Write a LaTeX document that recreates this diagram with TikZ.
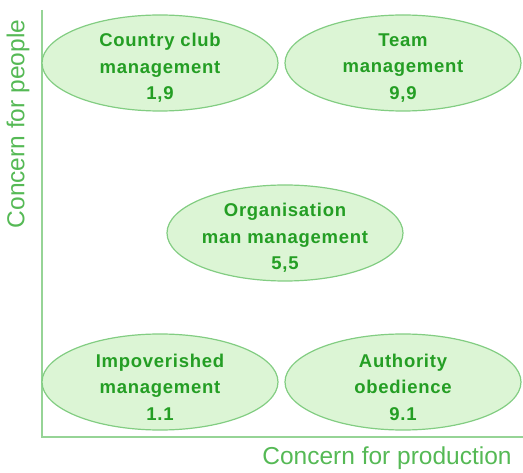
\documentclass[tikz,border=0pt]{standalone}
\usepackage{fontspec}
\setmainfont{Liberation Sans}
\usetikzlibrary{shapes.geometric}
\definecolor{leaf}{RGB}{220,245,213}
\definecolor{rim}{RGB}{130,205,130}
\definecolor{ink}{RGB}{36,158,36}
\definecolor{axis}{RGB}{150,212,150}
\definecolor{axtext}{RGB}{85,185,85}

\begin{document}
\begin{tikzpicture}[x=1pt,y=-1pt,
                    bubble/.style={ellipse,draw=rim,fill=leaf,line width=1.2pt,
                      minimum width=236pt,minimum height=96pt,inner sep=0pt},
                    bubtext/.style={align=center,text=ink,inner sep=0pt,yshift=-5pt,
                      font=\fontsize{18.5}{26.5}\selectfont\bfseries\addfontfeature{LetterSpace=4}},
                    axlabel/.style={text=axtext,inner sep=0pt,
                      font=\fontsize{24.5}{28}\selectfont}]
  \useasboundingbox (0,0) rectangle (523,473);

  % axes
  \coordinate (top) at (42,10);
  \coordinate (end) at (523,437);
  \draw[axis,line width=2pt] (top) |- (end);
  \node[axlabel,rotate=90] (people) at (18,124) {Concern for people};
  \node[axlabel] (prod) at (387,458) {Concern for production};

  % the five styles
  \node[bubble] (cc) at (160,63) {};
  \node[bubble] (team) at (403,63) {};
  \node[bubble] (org) at (285,233) {};
  \node[bubble] (imp) at (160,382) {};
  \node[bubble] (auth) at (403,382) {};

  \node[bubtext] (cc-t) at (cc) {Country club\\management\\1,9};
  \node[bubtext] (team-t) at (team) {Team\\management\\9,9};
  \node[bubtext] (org-t) at (org) {Organisation\\man management\\5,5};
  \node[bubtext] (imp-t) at (imp) {Impoverished\\management\\1.1};
  \node[bubtext] (auth-t) at (auth) {Authority\\obedience\\9.1};
\end{tikzpicture}
\end{document}
